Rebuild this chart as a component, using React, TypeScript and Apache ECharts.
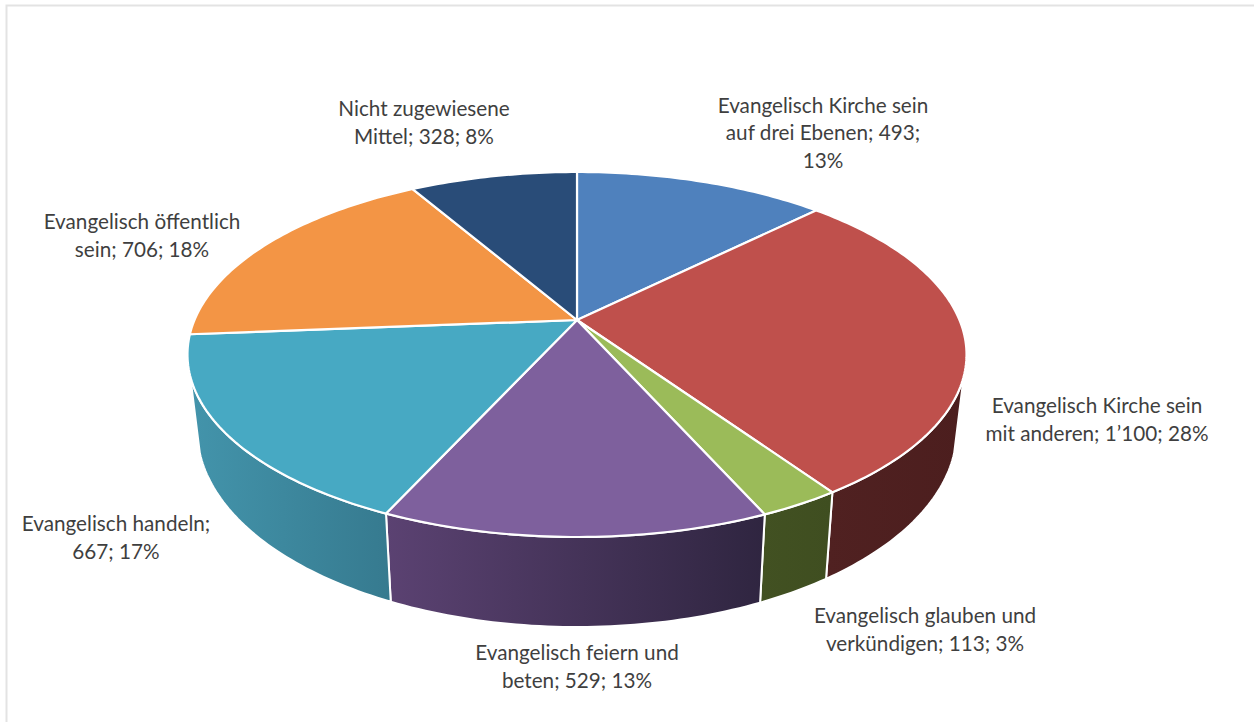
import React, { useEffect, useRef } from "react";
import * as echarts from "echarts";

const categories = [
  "Evangelisch Kirche sein auf drei Ebenen",
  "Evangelisch Kirche sein mit anderen",
  "Evangelisch glauben und verkündigen",
  "Evangelisch feiern und beten",
  "Evangelisch handeln",
  "Evangelisch öffentlich sein",
  "Nicht zugewiesene Mittel",
];
const values = [493, 1100, 113, 529, 667, 706, 328];
const labelLines = [
  "Evangelisch Kirche sein\nauf drei Ebenen; 493;\n13%",
  "Evangelisch Kirche sein\nmit anderen; 1’100; 28%",
  "Evangelisch glauben und\nverkündigen; 113; 3%",
  "Evangelisch feiern und\nbeten; 529; 13%",
  "Evangelisch handeln;\n667; 17%",
  "Evangelisch öffentlich\nsein; 706; 18%",
  "Nicht zugewiesene\nMittel; 328; 8%",
];
const topColors = ["#4f81bd", "#bf504c", "#9bbb59", "#7e609d", "#47a9c3", "#f39545", "#294c78"];
const sideLeft = ["#2f4d71", "#502121", "#425122", "#5b4272", "#4394ab", "#91592a", "#192e48"];
const sideRight = ["#2f4d71", "#4c1e1e", "#3f4e20", "#2f2540", "#367a8f", "#91592a", "#192e48"];
const labelCenters: [number, number][] = [
  [823, 132],
  [1097, 419],
  [925, 629],
  [577, 666],
  [116, 537],
  [142, 235],
  [424, 122],
];

const CX = 577;
const CY = 320;
const RX = 382.5;
const RY = 176;
const K = 0.189;
const DEPTH = 73;
const SHRINK = 0.975;
const MIN_FRONT = 0.3;

const total = values.reduce((a, b) => a + b, 0);
const rad = (d: number) => (d * Math.PI) / 180;

function topPoint(theta: number): [number, number] {
  const u = Math.sin(theta);
  const v = -Math.cos(theta);
  const d = 1 - K * v;
  return [CX + (RX * u) / d, CY + (RY * v) / d];
}
function bottomPoint(theta: number): [number, number] {
  const [x, y] = topPoint(theta);
  const v = -Math.cos(theta);
  return [CX + SHRINK * (x - CX), y + DEPTH / (1 - K * v)];
}
function range(i: number): [number, number] {
  const before = values.slice(0, i).reduce((a, b) => a + b, 0);
  return [(before / total) * 2 * Math.PI, ((before + values[i]) / total) * 2 * Math.PI];
}
function samples(a: number, b: number): number[] {
  const n = Math.max(2, Math.ceil((b - a) / rad(1)));
  const out: number[] = [];
  for (let j = 0; j <= n; j++) out.push(a + ((b - a) * j) / n);
  return out;
}

const renderTop = (params: any) => {
  const i = params.dataIndex;
  const [a, b] = range(i);
  const pts = [[CX, CY], ...samples(a, b).map(topPoint)];
  return {
    type: "polygon",
    shape: { points: pts },
    style: { fill: topColors[i], stroke: "#ffffff", lineWidth: 2.2, lineJoin: "round" },
  };
};

const renderSide = (params: any) => {
  const i = params.dataIndex;
  const [a0, b0] = range(i);
  const lo = Math.PI - Math.acos(MIN_FRONT);
  const hi = Math.PI + Math.acos(MIN_FRONT);
  const a = Math.max(a0, lo);
  const b = Math.min(b0, hi);
  if (b <= a) return { type: "group", children: [] };
  const s = samples(a, b);
  const pts = [...s.map(topPoint), ...s.slice().reverse().map(bottomPoint)];
  return {
    type: "polygon",
    shape: { points: pts },
    style: {
      fill: new echarts.graphic.LinearGradient(0, 0, 1, 0, [
        { offset: 0, color: sideLeft[i] },
        { offset: 1, color: sideRight[i] },
      ]),
      stroke: "#ffffff",
      lineWidth: 2,
      lineJoin: "round",
    },
  };
};

export default function App() {
  const ref = useRef<HTMLDivElement>(null);
  useEffect(() => {
    document.body.style.margin = "0";
    const chart = echarts.init(ref.current!, undefined, { renderer: "svg" });
    const data = categories.map((name, i) => ({ name, value: values[i] }));
    chart.setOption({
      animation: false,
      backgroundColor: "#ffffff",
      graphic: [
        {
          type: "rect",
          silent: true,
          z: 0,
          shape: { x: 6.5, y: 5.5, width: 1260, height: 730 },
          style: { fill: "none", stroke: "#e3e3e3", lineWidth: 2 },
        },
        ...labelLines.map((text, i) => ({
          type: "text",
          silent: true,
          z: 5,
          x: labelCenters[i][0],
          y: labelCenters[i][1],
          style: {
            text,
            fill: "#3f3f3f",
            font: '20.7px Lato, sans-serif',
            lineHeight: 27.5,
            align: "center",
            verticalAlign: "middle",
          },
        })),
      ],
      series: [
        { type: "custom", coordinateSystem: "none", z: 2, silent: true, data, renderItem: renderSide },
        { type: "custom", coordinateSystem: "none", z: 3, silent: true, data, renderItem: renderTop },
      ],
    });
    return () => chart.dispose();
  }, []);
  return <div ref={ref} style={{ width: 1254, height: 722, position: "absolute", left: 0, top: 0 }} />;
}
